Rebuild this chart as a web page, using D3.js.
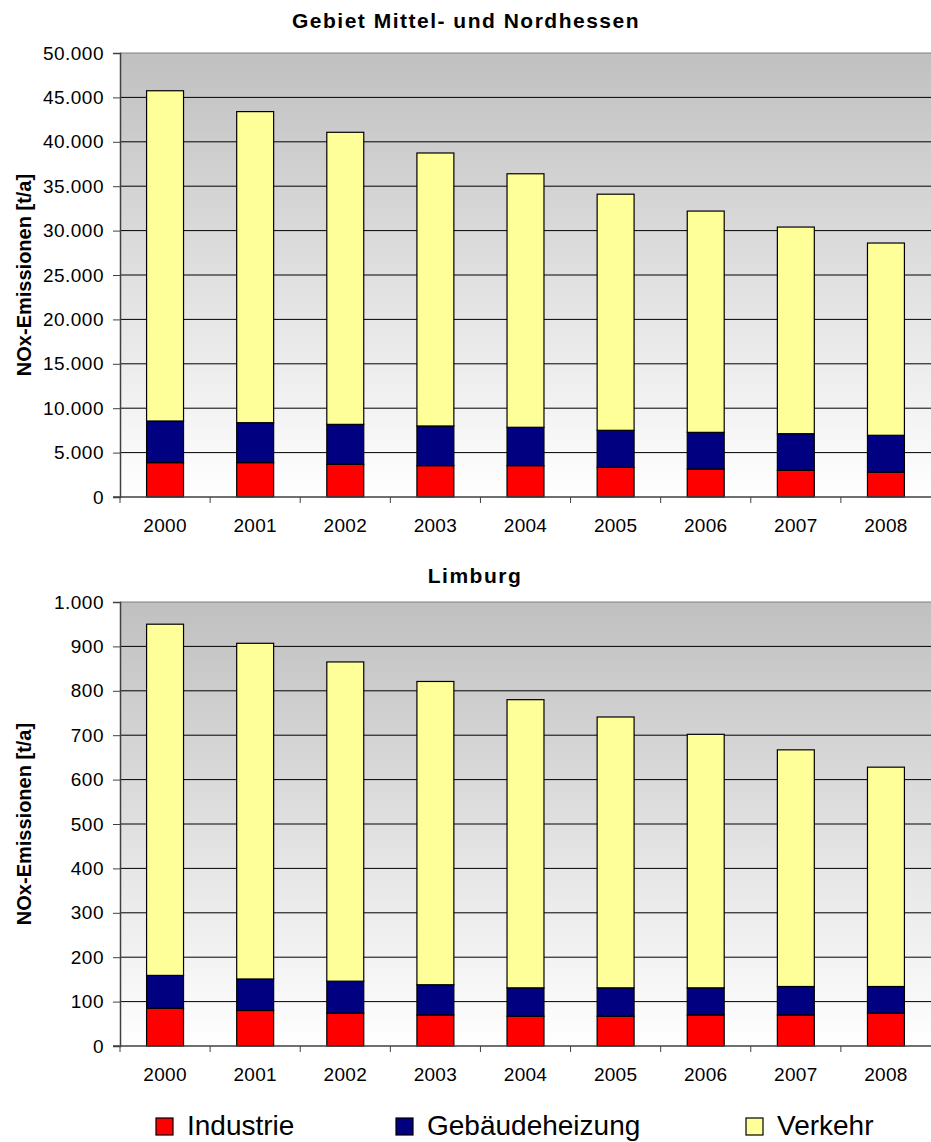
<!DOCTYPE html>
<html>
<head>
<meta charset="utf-8">
<script src="https://cdn.jsdelivr.net/npm/d3@7"></script>
<style>
  body { margin: 0; background: white; }
  text { font-family: "Liberation Sans", Arial, sans-serif; }
</style>
</head>
<body>
<div class="fig"></div>
<script>
var years = ["2000", "2001", "2002", "2003", "2004", "2005", "2006", "2007", "2008"];
var seriesNames = ["Industrie", "Gebäudeheizung", "Verkehr"];

// Gebiet Mittel- und Nordhessen, t/a
var nordIndustrie = [3870, 3870, 3680, 3530, 3530, 3340, 3150, 3000, 2780];
var nordGebaeude = [4690, 4500, 4500, 4470, 4320, 4170, 4130, 4130, 4170];
var nordVerkehr = [37190, 35030, 32890, 30740, 28550, 26590, 24920, 23270, 21650];
var nordTicks = [0, 5000, 10000, 15000, 20000, 25000, 30000, 35000, 40000, 45000, 50000];

// Limburg, t/a
var limIndustrie = [85, 80, 74, 70, 67, 67, 70, 70, 74];
var limGebaeude = [74, 71, 72, 68, 64, 64, 61, 64, 60];
var limVerkehr = [791, 756, 719, 683, 649, 610, 571, 533, 494];
var limTicks = [0, 100, 200, 300, 400, 500, 600, 700, 800, 900, 1000];

var colors = {
  "Industrie": "#ff0000",
  "Gebäudeheizung": "#000080",
  "Verkehr": "#ffff99"
};

var de = d3.formatLocale({decimal: ",", thousands: ".", grouping: [3], currency: ["", " €"]});
var fmt = de.format(",d");

var svg = d3.select(".fig").append("svg")
  .attr("width", 931)
  .attr("height", 1142);

var grad = svg.append("defs").append("linearGradient")
  .attr("id", "bg")
  .attr("x1", 0).attr("y1", 0).attr("x2", 0).attr("y2", 1);
grad.append("stop").attr("offset", "0%").attr("stop-color", "#c0c0c0");
grad.append("stop").attr("offset", "100%").attr("stop-color", "#ffffff");

function table(ind, geb, ver) {
  return years.map((y, i) => ({year: y, "Industrie": ind[i], "Gebäudeheizung": geb[i], "Verkehr": ver[i]}));
}

function barChart(opt) {
  var g = svg.append("g");
  var left = 120, right = 931;

  var x = d3.scaleBand()
    .domain(years)
    .range([left, right])
    .paddingInner(0.59)
    .paddingOuter(0.295);

  var y = d3.scaleLinear()
    .domain([0, opt.max])
    .range([opt.bottom, opt.top]);

  // plot background
  g.append("rect")
    .attr("x", left)
    .attr("y", y(opt.max))
    .attr("width", right - left)
    .attr("height", y(0) - y(opt.max))
    .attr("fill", "url(#bg)");

  // gridlines
  g.append("g")
    .selectAll("line")
    .data(opt.ticks.filter(d => d > 0 && d < opt.max))
    .enter()
    .append("line")
    .attr("x1", left).attr("x2", right)
    .attr("y1", d => y(d)).attr("y2", d => y(d))
    .attr("stroke", "#000")
    .attr("stroke-width", 1);

  g.append("line")
    .attr("x1", left).attr("x2", right)
    .attr("y1", y(opt.max)).attr("y2", y(opt.max))
    .attr("stroke", "#808080");

  var stack = d3.stack().keys(seriesNames);
  var layers = stack(opt.data);

  g.append("g")
    .selectAll("g")
    .data(layers)
    .enter()
    .append("g")
    .attr("fill", d => colors[d.key])
    .selectAll("rect")
    .data(d => d)
    .enter()
    .append("rect")
    .attr("x", d => x(d.data.year))
    .attr("y", d => y(d[1]))
    .attr("width", x.bandwidth())
    .attr("height", d => y(d[0]) - y(d[1]))
    .attr("stroke", "#000")
    .attr("stroke-width", 1.2);

  // y axis
  var yAxis = g.append("g")
    .attr("transform", "translate(" + left + ",0)")
    .call(d3.axisLeft(y).tickValues(opt.ticks).tickFormat(fmt).tickSize(7).tickPadding(9));
  yAxis.select(".domain").attr("stroke", "#404040").attr("stroke-width", 1.5);
  yAxis.selectAll(".tick line").attr("stroke", "#404040");
  yAxis.selectAll("text")
    .style("font-size", "19px")
    .style("letter-spacing", "0.5px")
    .attr("fill", "#000");

  // x axis, ticks at category borders
  g.append("line")
    .attr("x1", left - 7).attr("x2", right)
    .attr("y1", y(0)).attr("y2", y(0))
    .attr("stroke", "#404040")
    .attr("stroke-width", 1.5);

  var step = x.step();
  g.append("g")
    .selectAll("line")
    .data(years)
    .enter()
    .append("line")
    .attr("x1", d => x(d) - step * 0.295)
    .attr("x2", d => x(d) - step * 0.295)
    .attr("y1", y(0))
    .attr("y2", y(0) + 6)
    .attr("stroke", "#404040");

  g.append("g")
    .selectAll("text")
    .data(years)
    .enter()
    .append("text")
    .text(d => d)
    .attr("x", d => x(d) + x.bandwidth() / 2)
    .attr("y", y(0) + 35)
    .style("text-anchor", "middle")
    .style("font-size", "19px")
    .style("letter-spacing", "0.3px");

  // title
  g.append("text")
    .text(opt.title)
    .attr("x", opt.titleX)
    .attr("y", opt.titleY)
    .style("text-anchor", "middle")
    .style("font-size", "21px")
    .style("font-weight", "bold")
    .style("letter-spacing", "1.5px");

  // y label
  g.append("text")
    .text("NOx-Emissionen [t/a]")
    .attr("transform", "translate(31," + (opt.top + opt.bottom) / 2 + ") rotate(-90)")
    .style("text-anchor", "middle")
    .style("font-size", "20px")
    .style("font-weight", "bold");
}

barChart({
  data: table(nordIndustrie, nordGebaeude, nordVerkehr),
  max: 50000,
  ticks: nordTicks,
  top: 53,
  bottom: 497,
  title: "Gebiet Mittel- und Nordhessen",
  titleX: 466,
  titleY: 28
});

barChart({
  data: table(limIndustrie, limGebaeude, limVerkehr),
  max: 1000,
  ticks: limTicks,
  top: 602,
  bottom: 1046,
  title: "Limburg",
  titleX: 475,
  titleY: 583
});

// legend
var legendX = [156, 396, 746];
var legend = svg.append("g")
  .selectAll("g")
  .data(seriesNames)
  .enter()
  .append("g")
  .attr("transform", (d, i) => "translate(" + legendX[i] + ",1118)");

legend.append("rect")
  .attr("width", 17)
  .attr("height", 17)
  .attr("fill", d => colors[d])
  .attr("stroke", "#000")
  .attr("stroke-width", 1.2);

legend.append("text")
  .text(d => d)
  .attr("x", 31)
  .attr("y", 17)
  .style("font-size", "28px");
</script>
</body>
</html>
